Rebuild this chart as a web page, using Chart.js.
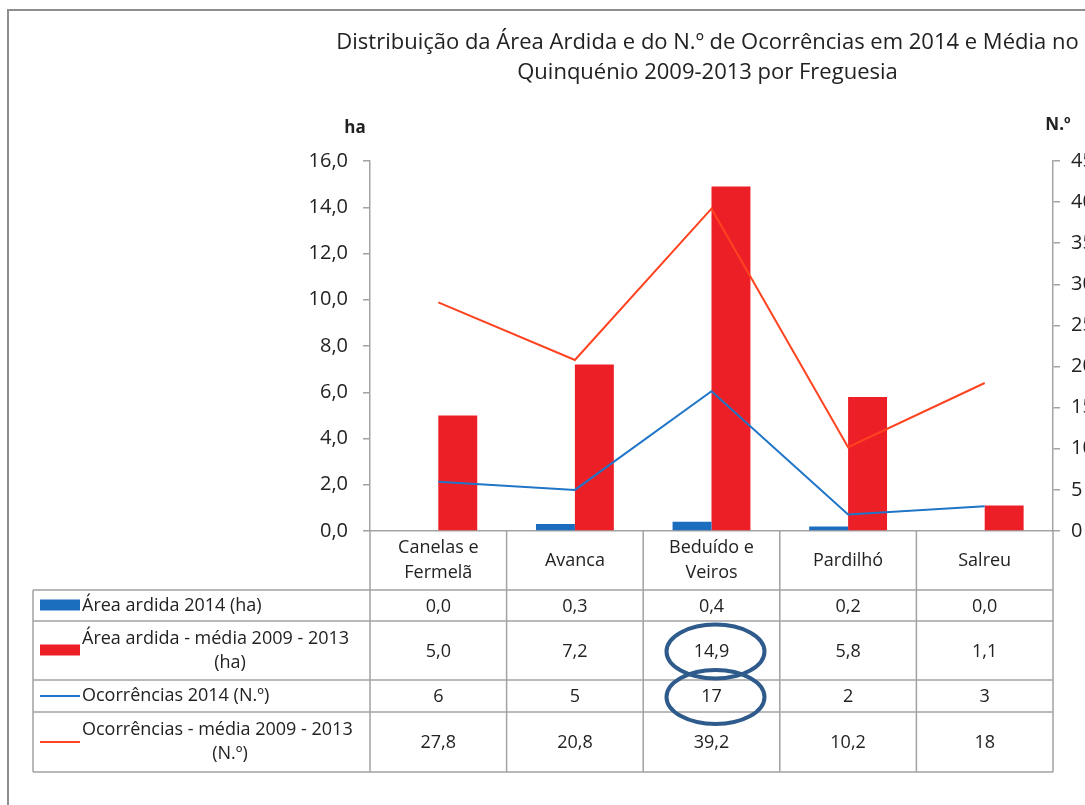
<!DOCTYPE html>
<html>
<head>
<meta charset="utf-8">
<script src="https://cdn.jsdelivr.net/npm/chart.js@4/dist/chart.umd.min.js"></script>
<style>
  body { margin: 0; background: #fff; }
</style>
</head>
<body>
<canvas id="chart" width="1085" height="805"></canvas>
<script>
const freguesias = [['Canelas e', 'Fermelã'], ['Avanca'], ['Beduído e', 'Veiros'], ['Pardilhó'], ['Salreu']];
const areaArdida2014 = [0.0, 0.3, 0.4, 0.2, 0.0];
const areaArdidaMedia = [5.0, 7.2, 14.9, 5.8, 1.1];
const ocorrencias2014 = [6, 5, 17, 2, 3];
const ocorrenciasMedia = [27.8, 20.8, 39.2, 10.2, 18];
const seriesLabels = [
    ['Área ardida 2014 (ha)'],
    ['Área ardida - média 2009 - 2013', '(ha)'],
    ['Ocorrências 2014 (N.º)'],
    ['Ocorrências - média 2009 - 2013', '(N.º)']
];
const titleLines = ['Distribuição da Área Ardida e do N.º de Ocorrências em 2014 e Média no', 'Quinquénio 2009-2013 por Freguesia'];
// cells circled in the table: [row, column]
const circled = [[1, 2], [2, 2]];

const FONT = '"Open Sans", Lato, sans-serif';
const TEXT = '#222';
const GRID = '#a3a3a3';
const colors = { blueBar: '#1b6ebd', redBar: '#ed1f26', blueLine: '#1f75c7', redLine: '#ff4320' };

let fmt1 = v => v.toFixed(1).replace('.', ',');
let fmtN = v => String(v).replace('.', ',');

let table = {
    id: 'dataTable',
    beforeDraw: function (chart) {
        let ctx = chart.ctx;
        ctx.save();
        ctx.fillStyle = '#fff';
        ctx.fillRect(0, 0, chart.width, chart.height);
        ctx.strokeStyle = '#8e8e8e';
        ctx.lineWidth = 2;
        ctx.strokeRect(8, 10, 1400, 1400);
        ctx.restore();
    },
    afterDraw: function (chart) {
        let ctx = chart.ctx;
        let area = chart.chartArea;
        let x = chart.scales.x;
        let n = freguesias.length;
        let colW = (x.right - x.left) / n;
        let rowH = [59, 31, 59, 32, 60];
        let rows = [area.bottom];
        rowH.forEach(h => rows.push(rows[rows.length - 1] + h));
        let legendLeft = 33;
        ctx.save();

        // title
        ctx.fillStyle = TEXT;
        ctx.font = '22px ' + FONT;
        ctx.textAlign = 'center';
        ctx.textBaseline = 'middle';
        ctx.fillText(titleLines[0], (area.left + area.right) / 2 - 4, 43);
        ctx.fillText(titleLines[1], (area.left + area.right) / 2 - 4, 73);

        // axis units
        ctx.font = 'bold 17px ' + FONT;
        ctx.fillText('ha', area.left - 15, area.top - 33);
        ctx.fillText('N.º', area.right + 5, area.top - 36);

        // grid
        ctx.strokeStyle = GRID;
        ctx.lineWidth = 1.5;
        ctx.beginPath();
        for (let i = 1; i < rows.length; i++) {
            ctx.moveTo(legendLeft, rows[i]);
            ctx.lineTo(x.right, rows[i]);
        }
        for (let i = 0; i <= n; i++) {
            ctx.moveTo(x.left + i * colW, rows[0]);
            ctx.lineTo(x.left + i * colW, rows[rows.length - 1]);
        }
        ctx.moveTo(legendLeft, rows[1]);
        ctx.lineTo(legendLeft, rows[rows.length - 1]);
        ctx.stroke();

        ctx.font = '18px ' + FONT;
        ctx.fillStyle = TEXT;
        // header: category names
        freguesias.forEach((lines, i) => {
            let cx = x.getPixelForValue(i);
            let mid = (rows[0] + rows[1]) / 2;
            lines.forEach((t, k) => {
                ctx.fillText(t, cx, mid + (k - (lines.length - 1) / 2) * 25);
            });
        });

        // body
        let datasets = chart.data.datasets;
        let order = [2, 3, 0, 1]; // dataset index for each table row
        let formats = [fmt1, fmt1, fmtN, fmtN];
        order.forEach((di, r) => {
            let ds = datasets[di];
            let mid = (rows[r + 1] + rows[r + 2]) / 2;
            // legend key
            if (ds.type === 'line') {
                ctx.strokeStyle = ds.borderColor;
                ctx.lineWidth = 2;
                ctx.beginPath();
                ctx.moveTo(40, mid);
                ctx.lineTo(80, mid);
                ctx.stroke();
            } else {
                ctx.fillStyle = ds.backgroundColor;
                ctx.fillRect(40, mid - 6, 40, 11);
            }
            ctx.fillStyle = TEXT;
            let lines = seriesLabels[r];
            if (lines.length === 1) {
                ctx.textAlign = 'left';
                ctx.fillText(lines[0], 82, mid);
            } else {
                ctx.textAlign = 'left';
                ctx.fillText(lines[0], 82, mid - 12);
                ctx.textAlign = 'center';
                ctx.fillText(lines[1], 230, mid + 12);
            }
            ctx.textAlign = 'center';
            ds.data.forEach((v, i) => {
                ctx.fillText(formats[r](v), x.getPixelForValue(i), mid + 1);
            });
        });

        // highlight ellipses
        ctx.strokeStyle = '#2f5b8c';
        ctx.lineWidth = 4;
        circled.forEach(([r, c]) => {
            let mid = (rows[r + 1] + rows[r + 2]) / 2;
            ctx.beginPath();
            ctx.ellipse(x.getPixelForValue(c) + 4, mid + 1, 49, 27, 0, 0, Math.PI * 2);
            ctx.stroke();
        });
        ctx.restore();
    }
};

new Chart(document.getElementById('chart'), {
    type: 'bar',
    data: {
        labels: freguesias,
        datasets: [{
            type: 'line',
            label: 'Ocorrências 2014 (N.º)',
            data: ocorrencias2014,
            yAxisID: 'y1',
            borderColor: colors.blueLine,
            borderWidth: 2,
            pointRadius: 0,
            tension: 0,
            order: 1
        }, {
            type: 'line',
            label: 'Ocorrências - média 2009 - 2013 (N.º)',
            data: ocorrenciasMedia,
            yAxisID: 'y1',
            borderColor: colors.redLine,
            borderWidth: 2,
            pointRadius: 0,
            tension: 0,
            order: 1
        }, {
            label: 'Área ardida 2014 (ha)',
            data: areaArdida2014,
            yAxisID: 'y',
            backgroundColor: colors.blueBar,
            order: 2
        }, {
            label: 'Área ardida - média 2009 - 2013 (ha)',
            data: areaArdidaMedia,
            yAxisID: 'y',
            backgroundColor: colors.redBar,
            order: 2
        }]
    },
    options: {
        responsive: false,
        animation: false,
        devicePixelRatio: 1,
        layout: { padding: { top: 161, left: 0, right: 0, bottom: 0 } },
        datasets: { bar: { categoryPercentage: 0.57, barPercentage: 1 } },
        plugins: {
            legend: { display: false },
            tooltip: { enabled: false },
            title: { display: false }
        },
        scales: {
            x: {
                grid: { display: false, drawTicks: false },
                border: { color: GRID, width: 1.5 },
                ticks: { display: false },
                afterFit: function (scale) { scale.height = 274; }
            },
            y: {
                position: 'left',
                min: 0,
                max: 16,
                ticks: { stepSize: 2, callback: v => fmt1(v), color: TEXT, font: { family: FONT, size: 20 }, padding: 15 },
                grid: { drawOnChartArea: false, tickLength: 7, color: GRID, lineWidth: 1.5 },
                border: { color: GRID, width: 1.5 },
                afterFit: function (scale) { scale.width = 370; }
            },
            y1: {
                position: 'right',
                min: 0,
                max: 45,
                ticks: { stepSize: 5, color: TEXT, font: { family: FONT, size: 20 }, padding: 11 },
                grid: { drawOnChartArea: false, tickLength: 7, color: GRID, lineWidth: 1.5 },
                border: { color: GRID, width: 1.5 },
                afterFit: function (scale) { scale.width = 32; }
            }
        }
    },
    plugins: [table]
});
</script>
</body>
</html>
